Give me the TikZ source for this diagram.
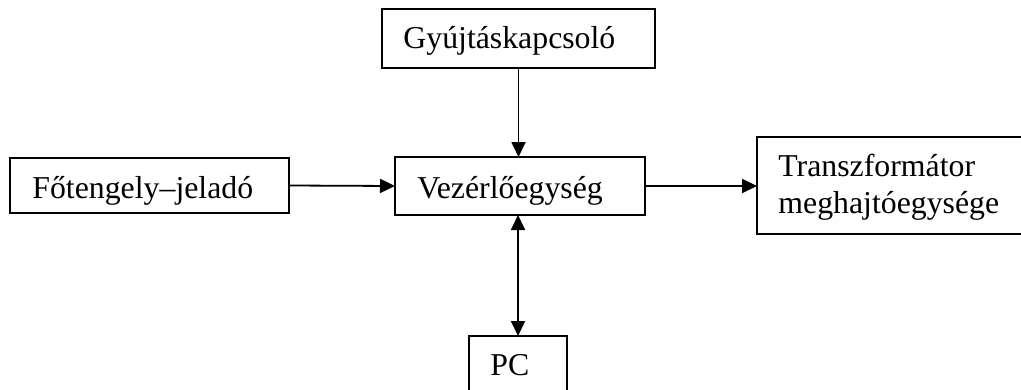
\documentclass[tikz,border=0pt]{standalone}
\usepackage{fontspec}
\setmainfont{Liberation Serif}
\usetikzlibrary{arrows.meta}
\tikzset{
  bx/.style 2 args={draw, line width=0.9pt, minimum width=#1*0.5pt, minimum height=#2*0.5pt, inner sep=0pt, outer sep=0pt},
  txt/.style={anchor=base west, inner sep=0pt, font=\fontsize{15.9pt}{18.5pt}\selectfont},
  conn/.style={line width=0.9pt, -{Triangle[length=7.5pt,width=7pt]}},
  dconn/.style={line width=0.9pt, {Triangle[length=7.5pt,width=7pt]}-{Triangle[length=7.5pt,width=7pt]}}
}
\begin{document}
\begin{tikzpicture}[x=0.5pt,y=-0.5pt]
\useasboundingbox (0,0) rectangle (1021,390);
\node[bx={273}{59}] (gy) at (518.5,38.5) {};
\node[bx={279}{55}] (fo) at (149.5,185.5) {};
\node[bx={250}{58}] (vez) at (520,186) {};
\node[bx={273}{97}] (tr) at (893.5,185.5) {};
\node[bx={98}{64}] (pc) at (518,368) {};
\node[txt] (gyt) at (403,49) {Gyújtáskapcsoló};
\node[txt] (fot) at (32,198) {Főtengely–jeladó};
\node[txt] (vezt) at (417,198) {Vezérlőegység};
\node[txt] (trt1) at (778,176) {Transzformátor};
\node[txt] (trt2) at (778,213) {meghajtóegysége};
\node[txt] (pct) at (490,375) {PC};
\draw[conn] (gy.south) -- (gy.south |- vez.north);
\draw[conn] (fo.east) -- (vez.west);
\draw[conn] (vez.east) -- (vez.east -| tr.west);
\draw[dconn] (pc.north |- vez.south) -- (pc.north);
\end{tikzpicture}
\end{document}
